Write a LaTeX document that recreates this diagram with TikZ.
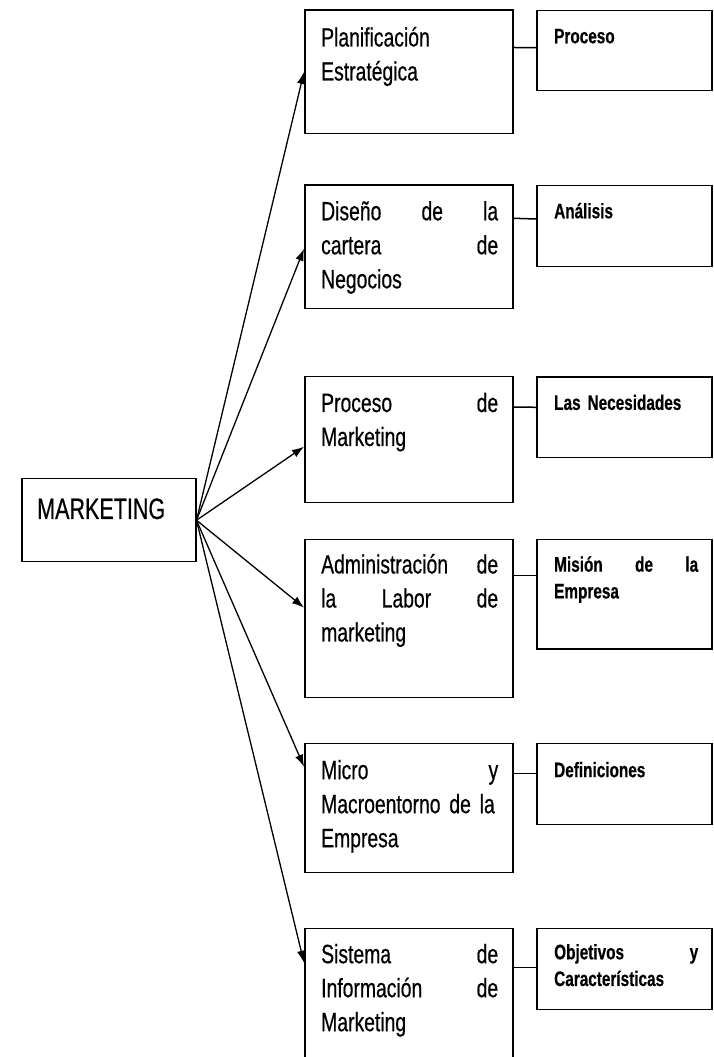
\documentclass[tikz,border=0pt]{standalone}
\usepackage{fontspec}
\usetikzlibrary{arrows.meta}
\newfontfamily\diafont[FakeStretch=0.73,FakeBold=0.5]{Liberation Sans}

\begin{document}
\begin{tikzpicture}[x=1pt,y=1pt,
    box/.style={draw, line width=1.5pt, minimum width=208pt, inner sep=0pt, anchor=north west},
    rbox/.style={draw, line width=1.5pt, minimum width=175pt, inner sep=0pt, anchor=north west},
    midtext/.style={anchor=base west, inner sep=0pt, text width=177pt, align=left,
        font=\diafont\fontsize{26.5}{34}\selectfont},
    rtext/.style={anchor=base west, inner sep=0pt, text width=144pt, align=left,
        font=\diafont\bfseries\fontsize{21}{26.7}\selectfont},
    arr/.style={line width=1.3pt, -{Latex[length=12pt,width=8.5pt]}},
    link/.style={line width=1.5pt}
]
    \useasboundingbox (0,0) rectangle (713,1057);
    \clip (0,0) rectangle (713,1057);

    % Main box.
    \node[box, minimum width=174pt, minimum height=83pt] (mkt) at (21,579) {};
    \node[anchor=base west, inner sep=0pt, font=\diafont\fontsize{29.5}{34}\selectfont]
        (mkt-t) at ([xshift=16pt,yshift=-41pt]mkt.north west) {MARKETING};

    % Middle column.
    \node[box, minimum height=123.5pt] (b1) at (304,1047.5) {};
    \node[box, minimum height=123.5pt] (b2) at (304,872.7) {};
    \node[box, minimum height=126pt] (b3) at (304,681) {};
    \node[box, minimum height=157.7pt] (b4) at (304,518) {};
    \node[box, minimum height=129pt] (b5) at (304,314.3) {};
    \node[box, minimum height=150pt] (b6) at (304,129.3) {};

    \node[midtext] (b1-t) at ([xshift=17pt,yshift=-37pt]b1.north west)
        {Planificación\\Estratégica};
    \node[midtext] (b2-t) at ([xshift=17pt,yshift=-36pt]b2.north west)
        {Diseño\hfill de\hfill la\\cartera\hfill de\\Negocios};
    \node[midtext] (b3-t) at ([xshift=17pt,yshift=-36pt]b3.north west)
        {Proceso\hfill de\\Marketing};
    \node[midtext] (b4-t) at ([xshift=17pt,yshift=-34.5pt]b4.north west)
        {Administración\hfill de\\la\hfill Labor\hfill de\\marketing};
    \node[midtext] (b5-t) at ([xshift=17pt,yshift=-36.5pt]b5.north west)
        {Micro\hfill y\\Macroentorno de la\\Empresa};
    \node[midtext] (b6-t) at ([xshift=17pt,yshift=-35.5pt]b6.north west)
        {Sistema\hfill de\\Información\hfill de\\Marketing};

    % Right column.
    \node[rbox, minimum height=80.3pt] (r1) at (536,1047.3) {};
    \node[rbox, minimum height=80.7pt] (r2) at (536,872) {};
    \node[rbox, minimum height=80.4pt] (r3) at (536,680.7) {};
    \node[rbox, minimum height=109.3pt] (r4) at (536,518) {};
    \node[rbox, minimum height=81.3pt] (r5) at (536,314.3) {};
    \node[rbox, minimum height=81.3pt] (r6) at (536,129.3) {};

    \node[rtext] (r1-t) at ([xshift=18pt,yshift=-33.6pt]r1.north west) {Proceso};
    \node[rtext] (r2-t) at ([xshift=18pt,yshift=-33.3pt]r2.north west) {Análisis};
    \node[rtext] (r3-t) at ([xshift=18pt,yshift=-33.6pt]r3.north west) {Las Necesidades};
    \node[rtext] (r4-t) at ([xshift=18pt,yshift=-32.7pt]r4.north west)
        {Misión\hfill de\hfill la\\Empresa};
    \node[rtext] (r5-t) at ([xshift=18pt,yshift=-34.5pt]r5.north west) {Definiciones};
    \node[rtext] (r6-t) at ([xshift=18pt,yshift=-31.6pt]r6.north west)
        {Objetivos\hfill y\\Características};

    % Links.
    \draw[link] ([yshift=-38pt]b1.north east) -- ([yshift=-38pt]r1.north west);
    \draw[link] ([yshift=-34pt]b2.north east) -- ([yshift=-34pt]r2.north west);
    \draw[link] ([yshift=-31pt]b3.north east) -- ([yshift=-31pt]r3.north west);
    \draw[link] ([yshift=-36.3pt]b4.north east) -- ([yshift=-36.3pt]r4.north west);
    \draw[link] ([yshift=-30.6pt]b5.north east) -- ([yshift=-30.6pt]r5.north west);
    \draw[link] ([yshift=-40pt]b6.north east) -- ([yshift=-40pt]r6.north west);

    % Arrows.
    \draw[arr] (mkt.east) -- (b1.west);
    \draw[arr] (mkt.east) -- ([yshift=-2pt]b2.west);
    \draw[arr] (mkt.east) -- ([yshift=-7pt]b3.west);
    \draw[arr] (mkt.east) -- ([yshift=11pt]b4.west);
    \draw[arr] (mkt.east) -- ([yshift=-24pt]b5.north west);
    \draw[arr] (mkt.east) -- ([yshift=-35pt]b6.north west);
\end{tikzpicture}
\end{document}
